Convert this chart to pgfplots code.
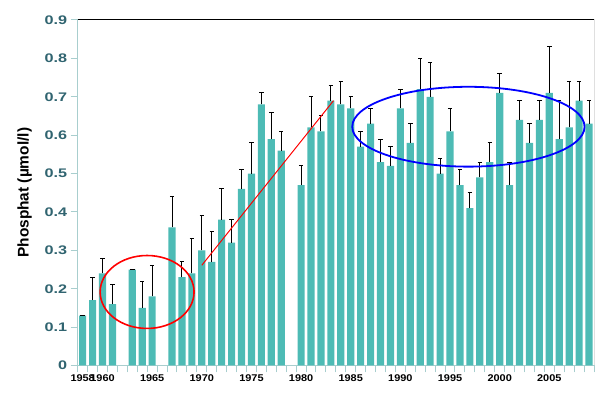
\documentclass[border=0pt]{standalone}
\usepackage{fontspec}
\setmainfont{Liberation Sans}
\newfontfamily\widefont[FakeStretch=1.3]{Liberation Sans}
\newfontfamily\xfont[FakeStretch=1.12]{Liberation Sans}
\usepackage{pgfplots}
\usepackage{pgfplotstable}
\pgfplotsset{compat=1.18}
\definecolor{barteal}{RGB}{77,187,181}
\definecolor{axgray}{RGB}{168,206,206}
\definecolor{ticklab}{RGB}{48,100,112}

\pgfplotstableread{
yr   val   err
1958 0.13 0.00
1959 0.17 0.06
1960 0.24 0.04
1961 0.16 0.05
1963 0.25 0.00
1964 0.15 0.07
1965 0.18 0.08
1967 0.36 0.08
1968 0.23 0.04
1969 0.24 0.09
1970 0.30 0.09
1971 0.27 0.08
1972 0.38 0.08
1973 0.32 0.06
1974 0.46 0.05
1975 0.50 0.08
1976 0.68 0.03
1977 0.59 0.07
1978 0.56 0.05
1980 0.47 0.05
1981 0.62 0.08
1982 0.61 0.04
1983 0.69 0.04
1984 0.68 0.06
1985 0.67 0.03
1986 0.57 0.04
1987 0.63 0.04
1988 0.53 0.06
1989 0.52 0.05
1990 0.67 0.05
1991 0.58 0.05
1992 0.72 0.08
1993 0.70 0.09
1994 0.50 0.04
1995 0.61 0.06
1996 0.47 0.04
1997 0.41 0.04
1998 0.49 0.04
1999 0.53 0.05
2000 0.71 0.05
2001 0.47 0.06
2002 0.64 0.05
2003 0.58 0.05
2004 0.64 0.05
2005 0.71 0.12
2006 0.59 0.10
2007 0.62 0.12
2008 0.69 0.05
2009 0.63 0.06
}\phosdata

\begin{document}
\begin{tikzpicture}
\begin{axis}[
  scale only axis, width=516.3bp, height=345.5bp,
  xmin=1957.5, xmax=2009.5, ymin=0, ymax=0.9,
  ybar, bar width=0.72,
  axis lines=left,
  axis line style={-, draw=axgray, line width=1bp},
  tick align=outside,
  major tick length=7bp,
  tick style={draw=axgray, line width=1bp},
  xtick={1957.5,1958.5,...,2009.6},
  xticklabels={},
  extra x ticks={1958,1960,1965,1970,1975,1980,1985,1990,1995,2000,2005},
  extra x tick labels={1958,1960,1965,1970,1975,1980,1985,1990,1995,2000,2005},
  extra x tick style={major tick length=0pt, tick style={draw=none},
    tick label style={font=\xfont\fontsize{9.8}{12}\selectfont\bfseries, black, yshift=-5.5bp}},
  ytick={0,0.1,0.2,0.3,0.4,0.5,0.6,0.7,0.8,0.9},
  yticklabels={0,0.1,0.2,0.3,0.4,0.5,0.6,0.7,0.8,0.9},
  yticklabel style={font=\widefont\fontsize{12.5}{15}\selectfont\bfseries, text=ticklab},
  ylabel={Phosphat (µmol/l)},
  ylabel style={font=\fontsize{15.5}{18}\selectfont\bfseries, at={(axis description cs:-0.1027,0.5)}, anchor=center},
]
\addplot[fill=barteal, draw=none,
  error bars/.cd, y dir=plus, y explicit,
  error bar style={black, line width=1bp},
  error mark options={rotate=90, mark size=2.2bp, black, line width=1bp}]
  table[x=yr, y=val, y error=err] {\phosdata};
\draw[black, line width=1bp] (rel axis cs:0,1) -- (rel axis cs:1,1) -- (rel axis cs:1,0);
\draw[red, line width=1.6bp] (axis cs:1964.49,0.1915) ellipse [x radius=4.73, y radius=0.095];
\draw[red, line width=1bp] (axis cs:1970,0.261) -- (axis cs:1983.27,0.69);
\draw[blue, line width=1.8bp] (axis cs:1996.85,0.622) ellipse [x radius=11.7, y radius=0.104];
\end{axis}
\path (current axis.south west) ++(-77.7bp,-44.5bp) rectangle ([xshift=11bp,yshift=20bp]current axis.north east);
\end{tikzpicture}
\end{document}
